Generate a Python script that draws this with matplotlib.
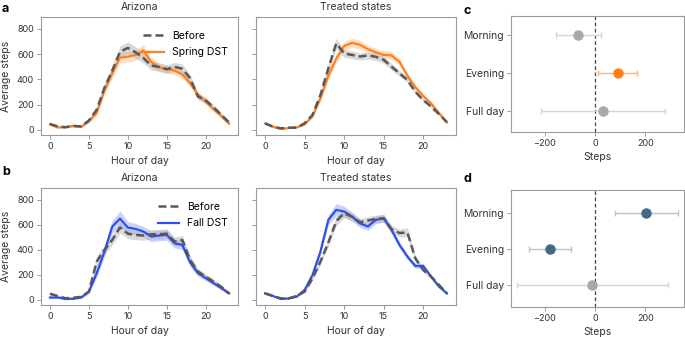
import matplotlib
matplotlib.use("Agg")
import matplotlib.pyplot as plt
import numpy as np

plt.rcParams['font.family'] = ['Inter', 'DejaVu Sans']

hours = list(range(24))

# Panel a: spring DST
az_spring_before = [47, 28, 22, 32, 28, 75, 160, 335, 470, 620, 650, 615, 570, 510, 500, 480, 500, 485, 410, 265, 235, 180, 120, 60]
az_spring_before_ci = [10, 8, 7, 8, 8, 14, 20, 32, 40, 45, 48, 45, 40, 36, 34, 34, 36, 36, 32, 26, 24, 20, 16, 10]
az_spring_dst = [45, 20, 22, 33, 25, 70, 135, 315, 450, 573, 580, 595, 630, 540, 495, 485, 470, 440, 370, 280, 225, 165, 110, 50]
az_spring_dst_ci = [10, 8, 7, 8, 8, 14, 20, 32, 40, 44, 44, 44, 46, 38, 34, 32, 32, 32, 28, 26, 24, 20, 16, 10]

tr_spring_before = [53, 26, 13, 18, 18, 53, 119, 277, 488, 686, 607, 594, 582, 590, 580, 556, 501, 449, 396, 303, 237, 185, 125, 62]
tr_spring_before_ci = [7, 5, 4, 4, 4, 8, 14, 24, 34, 42, 32, 30, 28, 28, 28, 28, 26, 22, 20, 16, 14, 11, 9, 7]
tr_spring_dst = [50, 25, 8, 15, 20, 45, 110, 250, 430, 565, 665, 690, 675, 640, 615, 595, 590, 540, 430, 340, 270, 210, 135, 60]
tr_spring_dst_ci = [7, 5, 4, 4, 4, 8, 14, 24, 32, 36, 36, 36, 34, 32, 30, 30, 30, 26, 22, 18, 16, 13, 10, 7]

# Panel b: fall DST
az_fall_before = [50, 32, 14, 18, 25, 67, 307, 400, 480, 580, 530, 520, 515, 525, 525, 530, 467, 480, 320, 227, 187, 147, 105, 50]
az_fall_before_ci = [10, 8, 6, 6, 8, 16, 45, 40, 40, 44, 40, 38, 38, 38, 38, 38, 36, 36, 32, 26, 22, 18, 15, 10]
az_fall_dst = [20, 20, 8, 10, 20, 67, 213, 387, 587, 650, 579, 568, 547, 507, 515, 520, 453, 440, 300, 215, 175, 135, 95, 55]
az_fall_dst_ci = [8, 7, 5, 5, 8, 16, 32, 40, 50, 62, 48, 44, 42, 42, 42, 42, 38, 36, 32, 26, 22, 18, 15, 10]

tr_fall_before = [53, 32, 13, 13, 32, 67, 173, 307, 460, 630, 693, 665, 622, 635, 648, 653, 565, 535, 540, 333, 240, 187, 120, 53]
tr_fall_before_ci = [7, 5, 4, 4, 5, 8, 16, 24, 32, 36, 36, 32, 30, 30, 30, 30, 30, 32, 36, 24, 16, 13, 10, 7]
tr_fall_dst = [53, 32, 8, 13, 27, 80, 200, 387, 640, 720, 707, 667, 613, 587, 640, 653, 560, 440, 347, 272, 272, 187, 107, 53]
tr_fall_dst_ci = [7, 5, 4, 4, 5, 10, 18, 28, 40, 50, 42, 36, 32, 30, 32, 32, 30, 24, 22, 20, 20, 14, 10, 7]

# Panels c, d: effects
categories = ["Morning", "Evening", "Full day"]
c_est = [-67, 91, 32]
c_low = [-157, 12, -215]
c_high = [25, 169, 279]
d_est = [204, -181, -11]
d_low = [79, -264, -310]
d_high = [330, -97, 291]

GRAY_LINE = "#585858"
GRAY_FILL = "#b4b4b4"
ORANGE = "#ff7f1f"
BLUE = "#2d4ff0"
SPINE = "#9a9a9a"
TXT = "#333333"

W, H = 685, 337
fig = plt.figure(figsize=(W / 100, H / 100), dpi=100)


def ax_px(l, r, t, b):
    return fig.add_axes([l / W, 1 - b / H, (r - l) / W, (b - t) / H])


def style(ax):
    for s in ax.spines.values():
        s.set_color(SPINE)
        s.set_linewidth(0.8)
    ax.tick_params(colors=SPINE, labelcolor=TXT, labelsize=6.5, length=3, width=0.7, pad=2)


def line_panel(ax, before, bci, after, aci, color, label, title, ylab, legend):
    h = np.array(hours)
    b = np.array(before); bc = np.array(bci)
    a = np.array(after); ac = np.array(aci)
    ax.fill_between(h, a - ac, a + ac, color=color, alpha=0.25, lw=0)
    ax.fill_between(h, b - bc, b + bc, color=GRAY_FILL, alpha=0.5, lw=0)
    ax.plot(h, a, color=color, lw=1.6, label=label, zorder=3)
    ax.plot(h, b, color=GRAY_LINE, lw=1.8, ls=(0, (3.2, 1.6)), label="Before", zorder=4)
    ax.set_xlim(-1.15, 24.15)
    ax.set_ylim(-40, 895)
    ax.set_xticks([0, 5, 10, 15, 20])
    ax.set_yticks([0, 200, 400, 600, 800])
    style(ax)
    ax.set_title(title, fontsize=7.5, color=TXT, pad=5)
    ax.set_xlabel("Hour of day", fontsize=7.5, color=TXT, labelpad=4)
    if ylab:
        ax.set_ylabel("Average steps", fontsize=7.5, color=TXT, labelpad=4)
    else:
        ax.set_yticklabels([])
    if legend:
        hs, ls = ax.get_legend_handles_labels()
        ax.legend([hs[1], hs[0]], [ls[1], ls[0]], loc="upper right", frameon=False,
                  fontsize=7.5, handlelength=2.0, borderaxespad=0.6, labelspacing=0.6,
                  bbox_to_anchor=(1.0, 0.97))


ax1 = ax_px(41, 238, 17, 135)
line_panel(ax1, az_spring_before, az_spring_before_ci, az_spring_dst, az_spring_dst_ci,
           ORANGE, "Spring DST", "Arizona", True, True)
ax2 = ax_px(256, 456, 17, 135)
line_panel(ax2, tr_spring_before, tr_spring_before_ci, tr_spring_dst, tr_spring_dst_ci,
           ORANGE, "Spring DST", "Treated states", False, False)
ax3 = ax_px(41, 238, 188, 305)
line_panel(ax3, az_fall_before, az_fall_before_ci, az_fall_dst, az_fall_dst_ci,
           BLUE, "Fall DST", "Arizona", True, True)
ax4 = ax_px(256, 456, 188, 305)
line_panel(ax4, tr_fall_before, tr_fall_before_ci, tr_fall_dst, tr_fall_dst_ci,
           BLUE, "Fall DST", "Treated states", False, False)


def forest(ax, est, low, high, dot_colors, bar_colors, ylim):
    for i, (e, lo, hi) in enumerate(zip(est, low, high)):
        ax.errorbar([e], [i], xerr=[[e - lo], [hi - e]], fmt="o", color=dot_colors[i],
                    ecolor=bar_colors[i], elinewidth=1.0, capsize=2.5, capthick=1.0,
                    markersize=6.5, zorder=3)
    ax.axvline(0, color="#444444", ls=(0, (3, 2)), lw=0.9, zorder=2)
    ax.set_xlim(-335, 355)
    ax.set_ylim(*ylim)
    ax.set_yticks(range(len(categories)))
    ax.set_yticklabels(categories)
    ax.set_xticks([-200, 0, 200])
    style(ax)
    ax.tick_params(axis="y", labelsize=7.5)
    ax.set_xlabel("Steps", fontsize=7.5, color=TXT, labelpad=3)


ax5 = ax_px(511, 684, 16, 132)
forest(ax5, c_est, c_low, c_high,
       ["#a9a9a9", ORANGE, "#a9a9a9"], ["#d6d6d6", "#ffb37a", "#d6d6d6"], (2.55, -0.5))
ax6 = ax_px(511, 684, 190, 307)
forest(ax6, d_est, d_low, d_high,
       ["#3f6a8a", "#3f6a8a", "#a9a9a9"], ["#b7c6d4", "#b7c6d4", "#d6d6d6"], (2.6, -0.62))

for lab, x, y in [("a", 2, 9), ("b", 2, 172), ("c", 463, 11), ("d", 463, 179)]:
    fig.text(x / W, 1 - y / H, lab, fontsize=9, fontweight="bold", va="center", ha="left")

fig.savefig("out.png", dpi=100)
